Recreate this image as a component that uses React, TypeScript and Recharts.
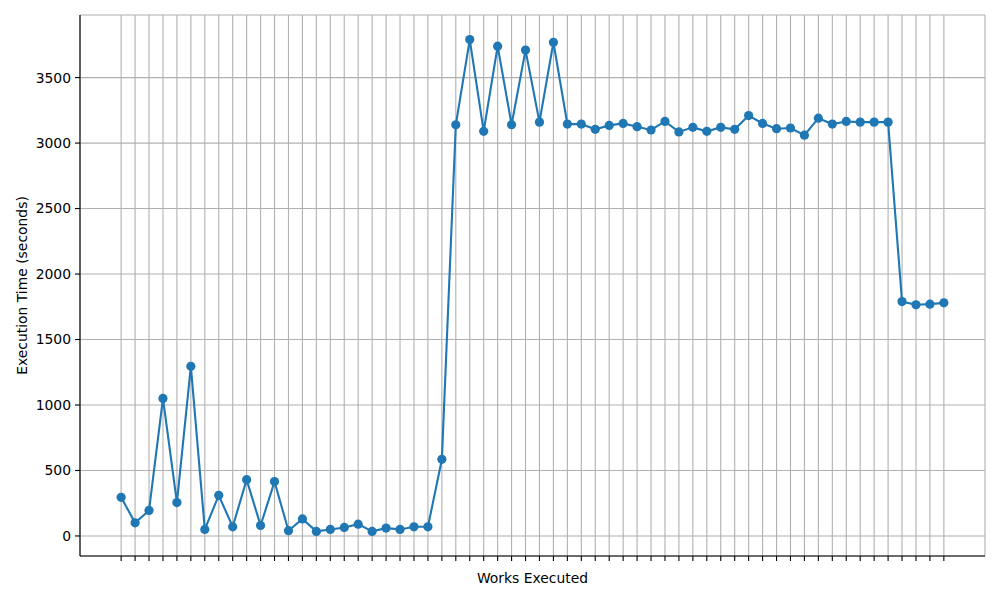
import React from 'react';
import { LineChart, Line, XAxis, YAxis, CartesianGrid, Label } from 'recharts';

const workIndex: number[] = Array.from({ length: 60 }, (_, i) => i);
const executionTimes: number[] = [
  295, 100, 195, 1050, 255, 1295, 50, 310, 70, 430,
  80, 415, 40, 130, 35, 50, 65, 90, 35, 60,
  50, 70, 70, 585, 3140, 3790, 3090, 3740, 3140, 3710,
  3160, 3770, 3145, 3145, 3105, 3135, 3150, 3125, 3100, 3165,
  3085, 3120, 3090, 3120, 3105, 3210, 3150, 3110, 3115, 3060,
  3190, 3145, 3165, 3160, 3160, 3160, 1790, 1765, 1770, 1780,
];
const yTicks: number[] = [0, 500, 1000, 1500, 2000, 2500, 3000, 3500];

const data = workIndex.map((i) => ({ idx: i, time: executionTimes[i] }));

const FONT = 'DejaVu Sans, sans-serif';

const EmptyTick = () => <g />;

export default function App() {
  return (
    <div style={{ position: 'absolute', left: 0, top: 0, width: 1000, height: 600, background: '#fff' }}>
      <LineChart width={1000} height={600} data={data} margin={{ top: 15, right: 15, bottom: 0, left: 0 }}>
        <CartesianGrid stroke="#b0b0b0" strokeWidth={1.1} vertical horizontal />
        <XAxis
          dataKey="idx"
          type="number"
          domain={[-2.95, 61.95]}
          ticks={workIndex}
          interval={0}
          allowDataOverflow
          height={44}
          tick={EmptyTick}
          tickSize={5}
          tickLine={{ stroke: '#000', strokeWidth: 1.1 }}
          axisLine={{ stroke: '#000', strokeWidth: 1.1 }}
        >
          <Label value="Works Executed" position="center" style={{ fontFamily: FONT, fontSize: 13.9, fill: '#000' }} />
        </XAxis>
        <XAxis
          xAxisId="top"
          dataKey="idx"
          type="number"
          orientation="top"
          domain={[-2.95, 61.95]}
          height={0}
          tick={false}
          tickLine={false}
          axisLine={{ stroke: '#000', strokeWidth: 1.1 }}
        />
        <YAxis
          type="number"
          domain={[-153, 3978]}
          ticks={yTicks}
          allowDataOverflow
          width={80}
          tickSize={5}
          tickMargin={4}
          tickLine={{ stroke: '#000', strokeWidth: 1.1 }}
          axisLine={{ stroke: '#000', strokeWidth: 1.1 }}
          tick={{ fontFamily: FONT, fontSize: 13.9, fill: '#000' }}
        >
          <Label value="Execution Time (seconds)" position="center" angle={-90} dx={-18} style={{ fontFamily: FONT, fontSize: 13.9, fill: '#000', textAnchor: 'middle' }} />
        </YAxis>
        <YAxis
          yAxisId="right"
          orientation="right"
          domain={[-153, 3978]}
          width={0}
          tick={false}
          tickLine={false}
          axisLine={{ stroke: '#000', strokeWidth: 1.1 }}
        />
        <Line
          dataKey="time"
          stroke="#1f77b4"
          strokeWidth={2.1}
          dot={{ r: 4.6, fill: '#1f77b4', stroke: '#1f77b4', strokeWidth: 0 }}
          activeDot={false}
          isAnimationActive={false}
        />
      </LineChart>
    </div>
  );
}
